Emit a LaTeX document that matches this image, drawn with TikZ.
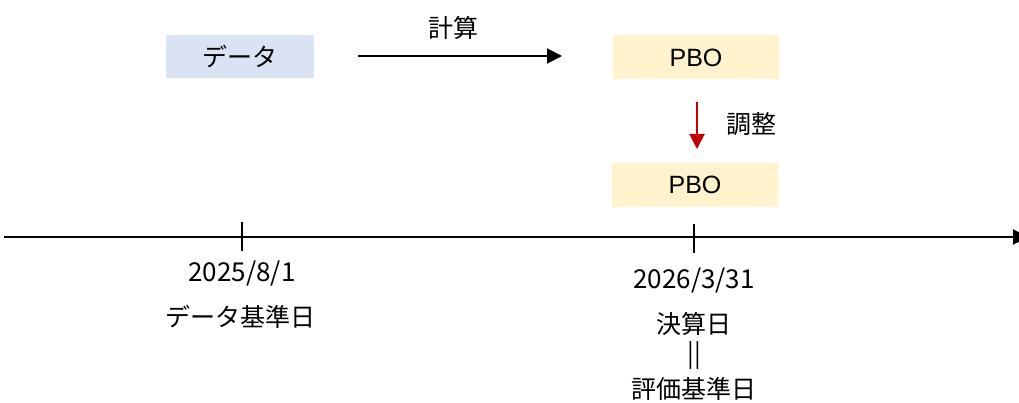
\documentclass[tikz,border=0pt]{standalone}
\usepackage{fontspec}
\setmainfont{Noto Sans CJK JP}
\newfontfamily\latinsans{Liberation Sans}
\usetikzlibrary{arrows.meta}
\definecolor{boxblue}{HTML}{DAE3F3}
\definecolor{boxyellow}{HTML}{FFF2CC}
\definecolor{adjred}{HTML}{C00000}
\tikzset{
  jp/.style={font=\fontsize{25}{27}\selectfont, inner sep=0pt},
  datetxt/.style={font=\fontsize{26}{28}\selectfont, inner sep=0pt},
  pbo/.style={fill=boxyellow, minimum width=166pt, minimum height=44pt, inner sep=0pt, font=\latinsans\fontsize{25}{27}\selectfont},
  databox/.style={fill=boxblue, minimum width=148pt, minimum height=43pt, inner sep=0pt, font=\fontsize{25}{27}\selectfont},
  arr/.style={line width=2pt, -{Triangle[length=15pt,width=15pt]}},
  tick/.style={line width=1.5pt},
}
\begin{document}
\begin{tikzpicture}[x=1pt,y=-1pt]
\useasboundingbox (0,0) rectangle (1019,403);
% boxes
\node[databox] (data) at (240,56.5) {データ};
\node[pbo] (pbo1) at (696,57.5) {PBO};
\node[pbo] (pbo2) at (695,185) {PBO};
% calc arrow
\coordinate (c1) at (358,56);
\coordinate (c2) at (562,56);
\draw[arr] (c1) -- (c2);
\node[jp] (calc) at (453,28) {計算};
% adjust arrow
\coordinate (a1) at (697,102);
\coordinate (a2) at (697,149);
\draw[arr, adjred] (a1) -- (a2);
\node[jp] (adj) at (751,124) {調整};
% timeline
\coordinate (t0) at (4,237);
\coordinate (t1) at (1028,237);
\draw[arr] (t0) -- (t1);
\coordinate (k1a) at (242,222);
\coordinate (k1b) at (242,251);
\coordinate (k2a) at (694,224);
\coordinate (k2b) at (694,253);
\draw[tick] (k1a) -- (k1b);
\draw[tick] (k2a) -- (k2b);
% labels
\node[datetxt] (d1) at (242,274) {2025/8/1};
\node[jp] (l1) at (240,317) {データ基準日};
\node[datetxt] (d2) at (694,281) {2026/3/31};
\node[jp] (l2) at (694,324) {決算日};
\node[jp] (eq) at (694,356) {||};
\node[jp] (l3) at (694,389) {評価基準日};
\end{tikzpicture}
\end{document}
